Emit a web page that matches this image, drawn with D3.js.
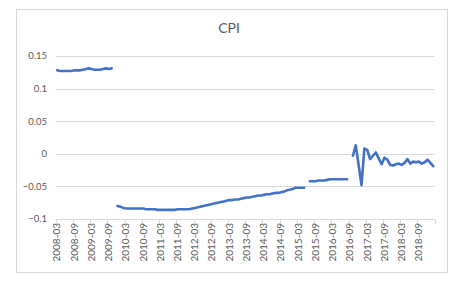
<!DOCTYPE html>
<html>
<head>
<meta charset="utf-8">
<script src="https://cdn.jsdelivr.net/npm/d3@7"></script>
<style>
  body { margin: 0; background: #fff; }
  svg { display: block; font-family: Lato, "Open Sans", sans-serif; }
</style>
</head>
<body>
<svg id="chart" width="456" height="286"></svg>
<script>
// first month of the series and number of monthly points
const startYear = 2008, startMonth = 3, monthCount = 132;

// axis labels
const yTicks = [0.15, 0.1, 0.05, 0, -0.05, -0.1];
const tickLabels = ['2008-03','2008-09','2009-03','2009-09','2010-03','2010-09','2011-03','2011-09',
  '2012-03','2012-09','2013-03','2013-09','2014-03','2014-09','2015-03','2015-09',
  '2016-03','2016-09','2017-03','2017-09','2018-03','2018-09'];

// CPI values, null = missing month (breaks the line)
const cpi2008 = [0.128,0.127,0.127,0.127,0.127,0.127,0.128,0.128,0.128,0.129,
  0.130,0.131,0.130,0.129,0.129,0.129,0.130,0.131,0.130,0.131, null];
const cpi2009 = [-0.080,-0.081,-0.083,-0.084,-0.084,-0.084,-0.084,-0.084,-0.084,-0.084,-0.085,-0.085,
  -0.085,-0.085,-0.086,-0.086,-0.086,-0.086,-0.086,-0.086,-0.086,-0.085,-0.085,-0.085,-0.085,-0.085,
  -0.084,-0.083,-0.082,-0.081,-0.080,-0.079,-0.078,-0.077,-0.076,-0.075,-0.074,-0.073,-0.072,-0.071,
  -0.071,-0.070,-0.070,-0.069,-0.068,-0.067,-0.067,-0.066,-0.065,-0.064,-0.064,-0.063,-0.062,-0.062,
  -0.061,-0.060,-0.060,-0.059,-0.058,-0.056,-0.055,-0.054,-0.052,-0.052,-0.052,-0.052, null];
const cpi2015 = [-0.042,-0.042,-0.042,-0.041,-0.041,-0.041,-0.040,-0.039,-0.039,-0.039,-0.039,-0.039,
  -0.039,-0.039, null];
const cpi2016 = [-0.003,0.013,-0.017,-0.048,0.008,0.006,-0.008,-0.003,0.002,-0.007,-0.016,-0.006,
  -0.009,-0.017,-0.018,-0.016,-0.015,-0.017,-0.014,-0.008,-0.015,-0.012,-0.013,-0.012,-0.015,-0.013,
  -0.009,-0.014,-0.019];

const values = [...cpi2008, ...cpi2009, ...cpi2015, ...cpi2016];

const months = [];
for (let i = 0; i < monthCount; i++) {
  const m = startMonth - 1 + i;
  const yr = startYear + Math.floor(m / 12);
  months.push(`${yr}-${String(m % 12 + 1).padStart(2, '0')}`);
}
const data = months.map((m, i) => ({ month: m, value: values[i] }));

const svg = d3.select('#chart');
const plotLeft = 55.7, plotRight = 434.7, plotTop = 56, plotBottom = 219;

// chart border
svg.append('rect')
  .attr('x', 16.5).attr('y', 9.5)
  .attr('width', 431).attr('height', 263)
  .attr('fill', 'none')
  .attr('stroke', '#d9d9d9');

svg.append('text')
  .attr('x', 229).attr('y', 33)
  .attr('text-anchor', 'middle')
  .attr('font-size', 14)
  .attr('fill', '#595959')
  .text('CPI');

const x = d3.scaleBand().domain(months).range([plotLeft, plotRight]).padding(0);
const y = d3.scaleLinear().domain([-0.1, 0.15]).range([plotBottom, plotTop]);

// gridlines
svg.append('g')
  .selectAll('line')
  .data(yTicks)
  .join('line')
  .attr('x1', plotLeft).attr('x2', plotRight)
  .attr('y1', d => Math.round(y(d)) + 0.5)
  .attr('y2', d => Math.round(y(d)) + 0.5)
  .attr('stroke', '#d9d9d9');

// y labels
svg.append('g')
  .selectAll('text')
  .data(yTicks)
  .join('text')
  .attr('x', 47)
  .attr('y', d => y(d) + 3.3)
  .attr('text-anchor', 'end')
  .attr('font-size', 9.5)
  .attr('fill', '#595959')
  .text(d => d3.format('')(d));

// x tick marks at group boundaries, every 6 months
const tickIdx = d3.range(0, monthCount + 1, 6);
svg.append('g')
  .selectAll('line')
  .data(tickIdx)
  .join('line')
  .attr('x1', i => Math.round(plotLeft + i * x.step()) + 0.5)
  .attr('x2', i => Math.round(plotLeft + i * x.step()) + 0.5)
  .attr('y1', Math.round(plotBottom) + 0.5)
  .attr('y2', Math.round(plotBottom) + 5)
  .attr('stroke', '#d9d9d9');

// x labels, rotated
svg.append('g')
  .selectAll('text')
  .data(tickLabels)
  .join('text')
  .attr('transform', d => `translate(${x(d) + x.bandwidth() / 2 + 3.3},${plotBottom + 4}) rotate(-90)`)
  .attr('text-anchor', 'end')
  .attr('font-size', 10)
  .attr('fill', '#595959')
  .text(d => d);

const line = d3.line()
  .defined(d => d.value != null)
  .x(d => x(d.month) + x.bandwidth() / 2)
  .y(d => y(d.value));

svg.append('path')
  .datum(data)
  .attr('d', line)
  .attr('fill', 'none')
  .attr('stroke', '#4472c4')
  .attr('stroke-width', 2.6)
  .attr('stroke-linejoin', 'round')
  .attr('stroke-linecap', 'round');
</script>
</body>
</html>
